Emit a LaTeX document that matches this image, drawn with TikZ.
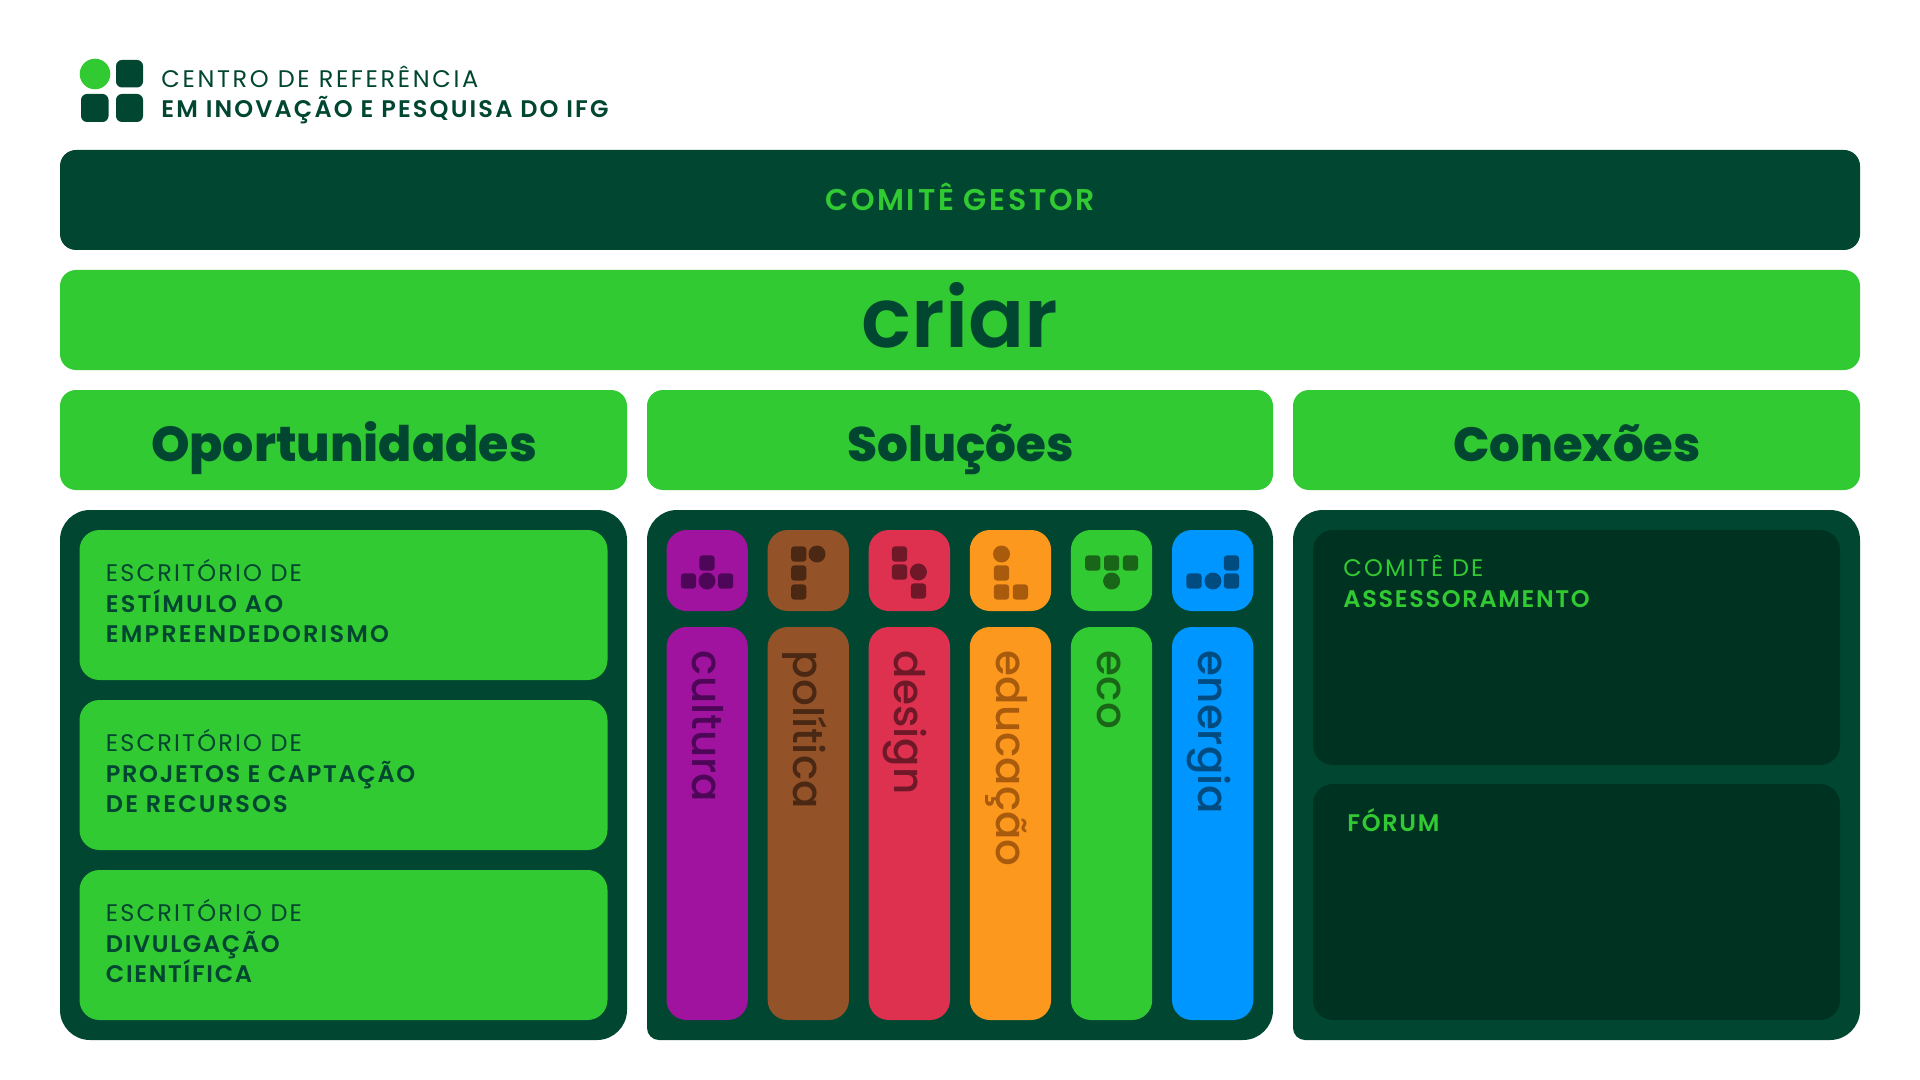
\documentclass[tikz,border=0pt]{standalone}
\usepackage{fontspec}
\setmainfont[BoldFont={Poppins ExtraBold}]{Poppins Medium}
\newfontfamily\spaced[LetterSpace=9,BoldFont={Poppins SemiBold}]{Poppins}
\newfontfamily\justo[LetterSpace=7,BoldFont={Poppins SemiBold}]{Poppins}
\newfontfamily\largo[LetterSpace=11]{Poppins}
\newfontfamily\forte{Poppins SemiBold}
\definecolor{verde}{HTML}{32CA32}
\definecolor{escuro}{HTML}{004631}
\definecolor{fundo}{HTML}{003222}
\definecolor{roxo}{HTML}{A0139E}
\definecolor{roxoesc}{HTML}{4E0758}
\definecolor{marrom}{HTML}{945228}
\definecolor{marromesc}{HTML}{4A2814}
\definecolor{rosa}{HTML}{DE3150}
\definecolor{rosaesc}{HTML}{6E1828}
\definecolor{laranja}{HTML}{FC981E}
\definecolor{laranjaesc}{HTML}{A85B0D}
\definecolor{verdeesc}{HTML}{1A6618}
\definecolor{azul}{HTML}{0096FF}
\definecolor{azulesc}{HTML}{004C80}
\tikzset{
  rotulo/.style={anchor=base west,inner sep=0pt,text=escuro,font=\fontsize{12}{12}\selectfont\spaced},
  titulo/.style={anchor=base,inner sep=0pt,text=escuro,font=\fontsize{24}{24}\selectfont\bfseries},
  faixa/.style={fill=verde,rounded corners=8pt},
  painel/.style={fill=escuro,rounded corners=15pt},
}
\newcommand{\bloco}[3]{\fill[#3,rounded corners=1.5pt] (#1-7.6,#2-7.6) rectangle (#1+7.6,#2+7.6);}
\newcommand{\bola}[3]{\fill[#3] (#1,#2) circle (8.5);}
\begin{document}
\begin{tikzpicture}[x=0.5pt,y=-0.5pt]
  \useasboundingbox (0,0) rectangle (1920,1080);
  % logo
  \fill[verde] (95,74) circle (15.3);
  \fill[escuro,rounded corners=3pt] (116,60) rectangle (143,87.5);
  \fill[escuro,rounded corners=3pt] (81,94) rectangle (108.5,122);
  \fill[escuro,rounded corners=3pt] (116,94) rectangle (143,122);
  \node (centro) [rotulo] at (161,87.5) {\largo CENTRO DE REFERÊNCIA};
  \node (inovacao) [rotulo] at (161,118) {\bfseries EM INOVAÇÃO E PESQUISA DO IFG};
  % faixas
  \fill[escuro,rounded corners=8pt] (60,150) rectangle (1860,250);
  \node (gestor) [rotulo,anchor=base,text=verde,font=\fontsize{15}{15}\selectfont\spaced\bfseries] at (960,210.5) {COMITÊ GESTOR};
  \fill[faixa] (60,270) rectangle (1860,370);
  \node (criar) [titulo,font=\fontsize{41.5}{41.5}\selectfont\forte] at (960,348) {criar};
  \fill[faixa] (60,390) rectangle (627,490);
  \fill[faixa] (647,390) rectangle (1273,490);
  \fill[faixa] (1293,390) rectangle (1860,490);
  \node (oportunidades) [titulo,font=\fontsize{24.5}{24.5}\selectfont\bfseries] at (344,461) {Oportunidades};
  \node (solucoes) [titulo,font=\fontsize{24.2}{24.2}\selectfont\bfseries] at (960.5,461) {Soluções};
  \node (conexoes) [titulo] at (1577,461) {Conexões};
  % paineis
  \fill[painel] (60,510) rectangle (627,1040);
  \fill[painel] (647,775) [rounded corners=15pt] -- (647,510) -- (1273,510) -- (1273,1040) [rounded corners=6pt] -- (647,1040) -- cycle;
  \fill[painel] (1293,775) [rounded corners=15pt] -- (1293,510) -- (1860,510) -- (1860,1040) [rounded corners=6pt] -- (1293,1040) -- cycle;
  % oportunidades
  \foreach \y in {530,700,870}
    \fill[verde,rounded corners=10pt] (79.5,\y) rectangle (607.5,\y+150);
  \node (esc1) [rotulo] at (105.5,581) {ESCRITÓRIO DE};
  \node (esc1b) [rotulo] at (105.5,612) {\bfseries ESTÍMULO AO};
  \node (esc1c) [rotulo] at (105.5,642) {\bfseries EMPREENDEDORISMO};
  \node (esc2) [rotulo] at (105.5,751) {ESCRITÓRIO DE};
  \node (esc2b) [rotulo] at (105.5,782) {\justo\bfseries PROJETOS E CAPTAÇÃO};
  \node (esc2c) [rotulo] at (105.5,812) {\bfseries DE RECURSOS};
  \node (esc3) [rotulo] at (105.5,921) {ESCRITÓRIO DE};
  \node (esc3b) [rotulo] at (105.5,952) {\justo\bfseries DIVULGAÇÃO};
  \node (esc3c) [rotulo] at (105.5,982) {\justo\bfseries CIENTÍFICA};
  % solucoes
  \foreach \x/\cor/\esc/\base/\nome in {666.5/roxo/roxoesc/692/cultura,767.6/marrom/marromesc/793/política,868.7/rosa/rosaesc/894.5/design,969.8/laranja/laranjaesc/996.5/educação,1070.9/verde/verdeesc/1097.5/eco,1172/azul/azulesc/1198/energia}{
    \fill[\cor,rounded corners=10pt] (\x,530) rectangle (\x+81.3,611);
    \fill[\cor,rounded corners=10pt] (\x,627) rectangle (\x+81.3,1020);
    \node (\nome) [rotate=-90,anchor=base west,inner sep=0pt,text=\esc,font=\fontsize{21}{21}\selectfont] at (\base,650.5) {\nome};
  }
  % icones
  \bloco{707}{563}{roxoesc} \bloco{688.4}{581}{roxoesc} \bola{707}{581}{roxoesc} \bloco{725.6}{581}{roxoesc}
  \bloco{798.7}{554}{marromesc} \bola{817}{554}{marromesc} \bloco{798.7}{573}{marromesc} \bloco{798.7}{592}{marromesc}
  \bloco{899.5}{554}{rosaesc} \bloco{899.5}{572}{rosaesc} \bola{918.4}{572}{rosaesc} \bloco{918.4}{591}{rosaesc}
  \bola{1001.5}{554}{laranjaesc} \bloco{1001.5}{573}{laranjaesc} \bloco{1001.5}{592}{laranjaesc} \bloco{1020.4}{592}{laranjaesc}
  \bloco{1092.7}{563}{verdeesc} \bloco{1111.6}{563}{verdeesc} \bloco{1130.5}{563}{verdeesc} \bola{1111.6}{581}{verdeesc}
  \bloco{1231.4}{563}{azulesc} \bloco{1194}{581}{azulesc} \bola{1212.9}{581}{azulesc} \bloco{1231.4}{581}{azulesc}
  % conexoes
  \fill[fundo,rounded corners=10pt] (1313,530) rectangle (1840,765);
  \fill[fundo,rounded corners=10pt] (1313,784) rectangle (1840,1020);
  \node (comite) [rotulo,text=verde] at (1343,576) {COMITÊ DE};
  \node (assessoramento) [rotulo,text=verde] at (1343,607) {\justo\bfseries ASSESSORAMENTO};
  \node (forum) [rotulo,text=verde] at (1347,831) {\justo\bfseries FÓRUM};
\end{tikzpicture}
\end{document}
